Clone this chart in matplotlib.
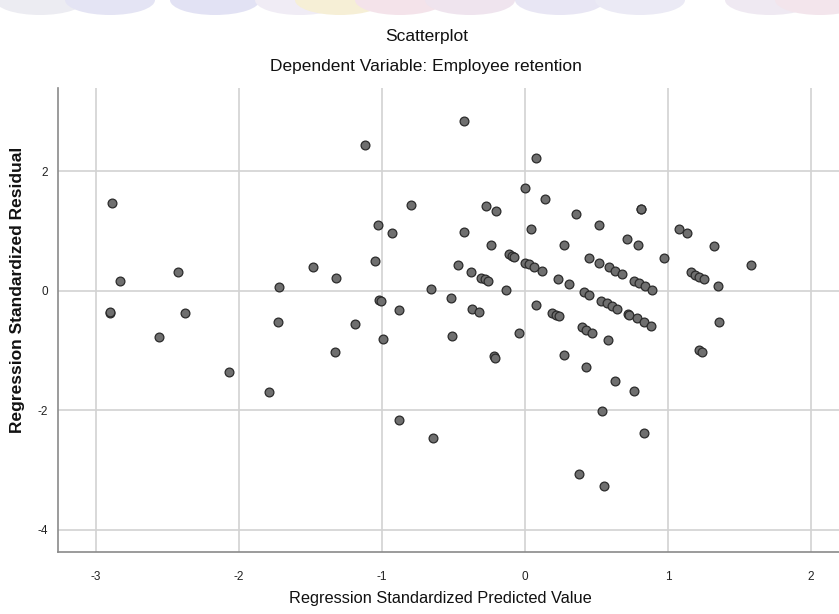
import matplotlib
matplotlib.use("Agg")
import matplotlib.pyplot as plt
from matplotlib.patches import Ellipse

# regression standardized predicted value / residual
pred = [-2.89, -2.83, -2.43, -2.90, -2.90, -2.38, -2.56, -2.07, -1.72, -1.73,
        -1.79, -1.48, -1.32, -1.33, -1.19, -1.12, -1.03, -1.05, -0.93, -1.02,
        -1.01, -0.99, -0.88, -0.88, -0.80, -0.66, -0.64, -0.52, -0.51, -0.47,
        -0.43, -0.43, -0.38, -0.37, -0.32, -0.31, -0.28, -0.26, -0.27, -0.20,
        -0.24, -0.22, -0.21, -0.13, -0.11, -0.09, -0.08, -0.04, 0.00, 0.00,
        0.03, 0.06, 0.12, 0.04, 0.08, 0.08, 0.14, 0.19, 0.22, 0.24,
        0.23, 0.27, 0.27, 0.31, 0.36, 0.38, 0.40, 0.43, 0.47, 0.41,
        0.45, 0.43, 0.45, 0.52, 0.52, 0.53, 0.57, 0.61, 0.64, 0.54,
        0.55, 0.58, 0.59, 0.63, 0.68, 0.63, 0.71, 0.72, 0.73, 0.78,
        0.83, 0.88, 0.76, 0.80, 0.84, 0.89, 0.76, 0.79, 0.81, 0.81,
        0.83, 0.97, 1.08, 1.13, 1.16, 1.19, 1.22, 1.25, 1.22, 1.24,
        1.32, 1.35, 1.36, 1.58]
resid = [1.46, 0.17, 0.31, -0.37, -0.36, -0.37, -0.77, -1.36, 0.07, -0.53,
         -1.70, 0.40, 0.21, -1.02, -0.56, 2.43, 1.10, 0.50, 0.97, -0.16,
         -0.17, -0.81, -0.32, -2.17, 1.43, 0.03, -2.46, -0.13, -0.76, 0.43,
         2.84, 0.99, 0.31, -0.31, -0.36, 0.22, 0.19, 0.16, 1.42, 1.34,
         0.76, -1.10, -1.13, 0.02, 0.61, 0.58, 0.56, -0.70, 1.71, 0.47,
         0.45, 0.40, 0.33, 1.03, 2.22, -0.24, 1.54, -0.37, -0.41, -0.43,
         0.20, 0.77, -1.07, 0.11, 1.28, -3.07, -0.61, -0.65, -0.70, -0.02,
         -0.08, -1.28, 0.55, 0.47, 1.10, -0.17, -0.21, -0.26, -0.30, -2.01,
         -3.27, -0.82, 0.39, 0.33, 0.28, -1.51, 0.86, -0.39, -0.41, -0.46,
         -0.52, -0.59, 0.17, 0.13, 0.08, 0.02, -1.67, 0.76, 1.36, 1.37,
         -2.38, 0.55, 1.03, 0.97, 0.32, 0.27, 0.23, 0.20, -0.99, -1.02,
         0.74, 0.08, -0.53, 0.43]

x_ticks = [-3, -2, -1, 0, 1, 2]
y_ticks = [-4, -2, 0, 2]

narrow = ["Liberation Sans Narrow", "Liberation Sans", "DejaVu Sans"]
plt.rcParams["font.family"] = narrow

fig = plt.figure(figsize=(8.39, 6.14), dpi=100)

# faded banner at the very top of the screenshot
band = fig.add_axes([0, 1 - 20 / 614, 1, 20 / 614])
band.set_xlim(0, 839)
band.set_ylim(0, 20)
band.axis("off")
blobs = [(40, "#ececf2"), (110, "#e4e4f4"), (215, "#e2e2f4"), (300, "#f0ecf5"),
         (340, "#f6efd6"), (400, "#f4e3ea"), (470, "#efe4ee"), (560, "#e8e6f4"),
         (640, "#ebeaf5"), (770, "#efe9f2"), (820, "#f3e5ec")]
for cx, c in blobs:
    band.add_patch(Ellipse((cx, 20), 90, 30, color=c, lw=0))

ax = fig.add_axes([58 / 839, 62 / 614, 781 / 839, 464 / 614])
ax.scatter(pred, resid, s=40, facecolor="#6f6f6f", edgecolor="#2b2b2b",
           linewidth=0.9, zorder=3)

ax.set_xlim(-3.266, 2.196)
ax.set_ylim(-4.37, 3.39)
ax.set_xticks(x_ticks)
ax.set_yticks(y_ticks)
ax.set_xticklabels([str(v) for v in x_ticks])
ax.set_yticklabels([str(v) for v in y_ticks])
ax.grid(True, color="#d2d2d2", linewidth=1.2)
ax.set_axisbelow(True)
ax.tick_params(length=0, labelsize=8.5, colors="#222222")
ax.tick_params(axis="x", pad=14)
ax.tick_params(axis="y", pad=7)
for side in ["top", "right"]:
    ax.spines[side].set_visible(False)
for side in ["left", "bottom"]:
    ax.spines[side].set_color("#8a8a8a")
    ax.spines[side].set_linewidth(1.2)

fig.text(427 / 839, 1 - 36 / 614, "Scatterplot", ha="center", va="center",
         fontsize=12.5, color="#111111")
fig.text(426 / 839, 1 - 66 / 614, "Dependent Variable: Employee retention",
         ha="center", va="center", fontsize=12.5, color="#111111")
fig.text(440 / 839, 1 - 599 / 614, "Regression Standardized Predicted Value",
         ha="center", va="center", fontsize=11.8, color="#111111")
fig.text(18 / 839, 1 - 290 / 614, "Regression Standardized Residual",
         ha="center", va="center", rotation=90, fontsize=12.5,
         fontweight="bold", family=["Liberation Sans", "DejaVu Sans"],
         color="#111111")

fig.savefig("out.png", dpi=100)
